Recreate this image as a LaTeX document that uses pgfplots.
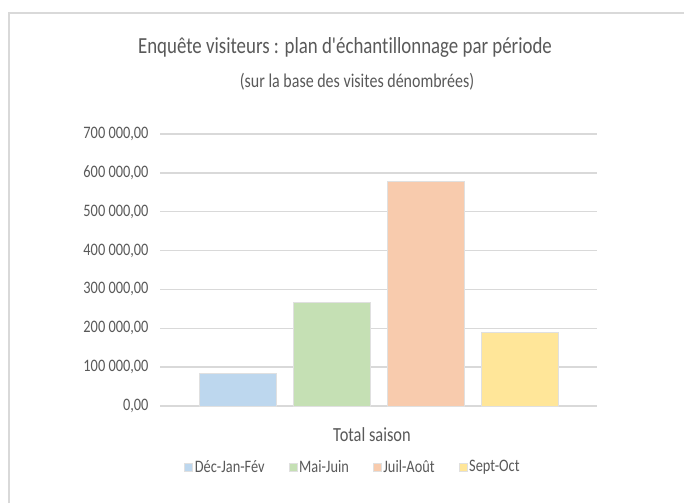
\documentclass[border=0pt]{standalone}
\usepackage{fontspec}
\setmainfont{Carlito}[FakeStretch=0.82, Ligatures={TeXOff,CommonOff}]
\usepackage{pgfplots}
\pgfplotsset{compat=1.18}
\definecolor{txt}{HTML}{595959}
\definecolor{grd}{HTML}{D9D9D9}
\definecolor{cb}{HTML}{BDD7EE}
\definecolor{cg}{HTML}{C5E0B4}
\definecolor{co}{HTML}{F8CBAD}
\definecolor{cy}{HTML}{FFE699}
\begin{document}
\begin{tikzpicture}
\useasboundingbox (0pt,0pt) rectangle (684pt,503pt);
\fill[white] (0pt,0pt) rectangle (684pt,503pt);
\draw[grd, line width=1.5pt] (9pt,0pt) -- (9pt,490pt) -- (690pt,490pt);
\node[txt, font=\fontsize{23}{27}\selectfont] at (345pt,456pt) {Enquête visiteurs : plan d'échantillonnage par période};
\node[txt, font=\fontsize{19.5}{22}\selectfont] at (357pt,421pt) {(sur la base des visites dénombrées)};
\node[txt, font=\fontsize{20}{22}\selectfont] at (372pt,68pt) {Total saison};
\begin{axis}[at={(160pt,97pt)}, anchor=south west, scale only axis,
  width=437pt, height=272pt,
  ymin=0, ymax=700000,
  ytick={0,100000,200000,300000,400000,500000,600000,700000},
  xmin=-1, xmax=1, xtick=\empty,
  ybar=17pt, bar width=77pt,
  axis line style={draw=none}, major tick length=0pt,
  ymajorgrids, grid style={grd, line width=1.3pt},
  scaled y ticks=false,
  yticklabel style={txt, font=\fontsize{17.5}{20}\selectfont, xshift=-8pt,
    /pgf/number format/.cd, fixed, fixed zerofill, precision=2, use comma,
    1000 sep={\ }, assume math mode=true},
  legend columns=4,
  legend style={at={(0.4416,-0.224)}, anchor=center, draw=none, fill=none,
    font=\fontsize{17.5}{20}\selectfont, text=txt,
    /tikz/every even column/.append style={column sep=22pt}},
  legend image code/.code={\fill[#1] (0pt,-4pt) rectangle (8pt,4pt);},
  clip=false,
]
\addplot[fill=cb, draw=black!12, line width=0.5pt] coordinates {(0,84000)};
\addplot[fill=cg, draw=black!12, line width=0.5pt] coordinates {(0,266600)};
\addplot[fill=co, draw=black!12, line width=0.5pt] coordinates {(0,579000)};
\addplot[fill=cy, draw=black!12, line width=0.5pt] coordinates {(0,189500)};
\legend{Déc-Jan-Fév, Mai-Juin, Juil-Août, Sept-Oct}
\end{axis}
\end{tikzpicture}
\end{document}
